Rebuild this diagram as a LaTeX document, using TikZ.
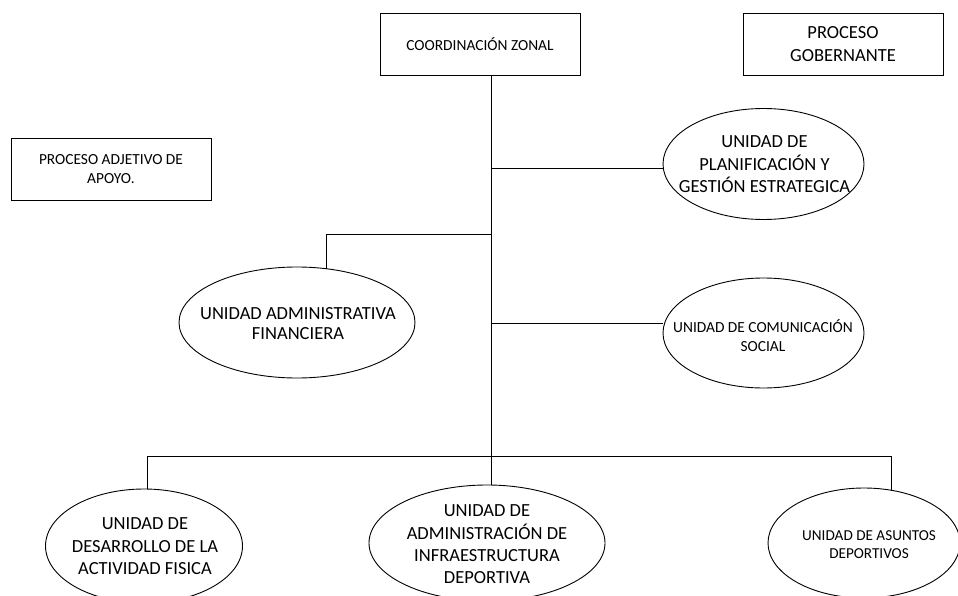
\documentclass[tikz,border=0pt]{standalone}
\usepackage{fontspec}
\setmainfont{Carlito}
\usetikzlibrary{shapes.geometric}
\begin{document}
\begin{tikzpicture}[x=1pt,y=-1pt,
  ln/.style={draw=black,line width=0.9pt},
  box/.style={draw=black,line width=0.9pt,inner sep=0pt,outer sep=0pt,minimum width=200pt,minimum height=62pt,align=center},
  ell/.style={ellipse,draw=black,line width=0.9pt,inner sep=0pt,outer sep=0pt},
  bigt/.style={align=center,inner sep=0pt,font=\fontsize{18.5}{22.5}\selectfont},
  smallt/.style={align=center,inner sep=0pt,font=\fontsize{15.4}{19}\selectfont}]
\clip (0,0) rectangle (958,596);
\fill[white] (0,0) rectangle (958,596);
% boxes
\node[box,font=\fontsize{15.4}{19}\selectfont] (coord) at (480,44) {COORDINACIÓN ZONAL};
\node[box,font=\fontsize{18.5}{23}\selectfont] (gob) at (843,44) {PROCESO\\GOBERNANTE};
\node[box,font=\fontsize{15.4}{19}\selectfont] (adj) at (111,169) {PROCESO ADJETIVO DE\\APOYO.};
% ellipses
\node[ell,minimum width=201pt,minimum height=111pt] (plan) at (763.5,164) {};
\node[bigt] (planT) at (764.5,164.5) {UNIDAD DE\\PLANIFICACIÓN Y\\GESTIÓN ESTRATEGICA};
\node[ell,minimum width=236pt,minimum height=111pt] (admin) at (297,322.5) {};
\node[bigt,font=\fontsize{18.5}{19.5}\selectfont] (adminT) at (298,323.5) {UNIDAD ADMINISTRATIVA\\FINANCIERA};
\node[ell,minimum width=201pt,minimum height=110pt] (comm) at (763.5,333) {};
\node[smallt] (commT) at (763,335.5) {UNIDAD DE COMUNICACIÓN\\SOCIAL};
\node[ell,minimum width=197pt,minimum height=114pt] (des) at (144,546) {};
\node[bigt] (desT) at (145,546.5) {UNIDAD DE\\DESARROLLO DE LA\\ACTIVIDAD FISICA};
\node[ell,minimum width=236pt,minimum height=116pt] (infra) at (487,543) {};
\node[bigt,font=\fontsize{18.5}{22.3}\selectfont] (infraT) at (487,544.5) {UNIDAD DE\\ADMINISTRACIÓN DE\\INFRAESTRUCTURA\\DEPORTIVA};
\node[ell,minimum width=192pt,minimum height=110pt] (asun) at (864,543) {};
\node[smallt,font=\fontsize{15.2}{18}\selectfont] (asunT) at (869,545) {UNIDAD DE ASUNTOS\\DEPORTIVOS};
% connectors
\coordinate (t0) at (491,75);
\coordinate (jp) at (491,168);
\coordinate (ja) at (491,234);
\coordinate (jc) at (491,323);
\coordinate (jb) at (491,456);
\coordinate (jl) at (147.7,456);
\coordinate (jr) at (891.7,456);
\draw[ln] (t0) -- (jb);
\draw[ln] (jp) -- (jp -| plan.west);
\draw[ln] (ja) -| (admin.61.7);
\draw[ln] (jc) -- (jc -| comm.west);
\draw[ln] (jl) -- (jr);
\draw[ln] (jb) -- (jb |- infra.north);
\draw[ln] (jl) -- (jl |- des.north);
\draw[ln] (jr) -- (jr |- asun.62.2);
\end{tikzpicture}
\end{document}
